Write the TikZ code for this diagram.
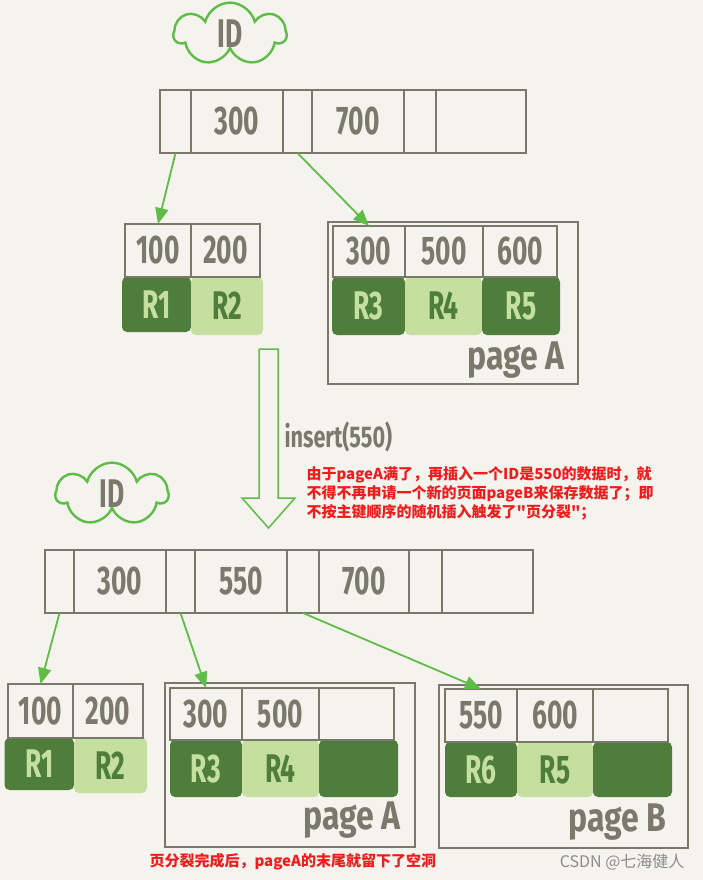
\documentclass[tikz,border=0pt]{standalone}
\usepackage{fontspec}
\setmainfont{Fira Sans}
\newfontfamily\cjk{Noto Sans CJK SC}
\usetikzlibrary{arrows.meta, shapes.symbols}
\definecolor{bgpaper}{HTML}{F4F3EE}
\definecolor{boxgray}{HTML}{7B776B}
\definecolor{inkgray}{HTML}{7D786C}
\definecolor{recdark}{HTML}{4E7D3C}
\definecolor{reclight}{HTML}{C4DFA0}
\definecolor{arrowgreen}{HTML}{5FBC46}
\definecolor{notered}{HTML}{F01C1C}
\definecolor{markgray}{HTML}{8C8C8C}
\newcommand{\hw}[1]{\scalebox{0.66}[1]{#1}}
\newcommand{\hwpage}[1]{\scalebox{0.8}[1]{#1}}

\begin{document}
\begin{tikzpicture}[
    x=1pt, y=-1pt,
    hand/.style={font=\bfseries\fontsize{40}{40}\selectfont},
    keycell/.style={hand, draw=boxgray, line width=1.6pt, inner sep=0pt,
                    outer sep=0pt, text=inkgray},
    darkrec/.style={hand, fill=recdark, rounded corners=5pt, inner sep=0pt,
                    text=reclight},
    lightrec/.style={hand, fill=reclight, rounded corners=5pt, inner sep=0pt,
                     text=recdark},
    pageframe/.style={draw=boxgray, line width=1.6pt},
    idcloud/.style={hand, cloud, cloud puffs=7, aspect=2.1, draw=arrowgreen,
                    line width=2.4pt, inner sep=0pt, minimum width=112pt,
                    minimum height=50pt, text=inkgray},
    link/.style={arrowgreen, line width=1.8pt,
                 -{Triangle[length=16pt,width=13pt]}},
    note/.style={text=notered, font=\cjk\bfseries\fontsize{15}{19}\selectfont,
                 align=left, anchor=west}
  ]
    \fill[bgpaper] (0,0) rectangle (703,880);
    \useasboundingbox (0,0) rectangle (703,880);

    % before the insert
    \node[idcloud] (idtop) at (230,34) {\hw{ID}};

    \node[keycell, minimum width=31pt, minimum height=63pt] (t0) at (175.5,121.5) {};
    \node[keycell, minimum width=92pt, minimum height=63pt] (t1) at (237,121.5) {\hw{300}};
    \node[keycell, minimum width=29pt, minimum height=63pt] (t2) at (297.5,121.5) {};
    \node[keycell, minimum width=92pt, minimum height=63pt] (t3) at (358,121.5) {\hw{700}};
    \node[keycell, minimum width=32pt, minimum height=63pt] (t4) at (420,121.5) {};
    \node[keycell, minimum width=90pt, minimum height=63pt] (t5) at (481,121.5) {};

    \node[darkrec, minimum width=69pt, minimum height=55pt] (tr1) at (156.5,304.5) {\hw{R1}};
    \node[lightrec, minimum width=72pt, minimum height=58pt] (tr2) at (227,306) {\hw{R2}};
    \node[keycell, minimum width=66pt, minimum height=53pt] (tk1) at (158,250.5) {\hw{100}};
    \node[keycell, minimum width=69pt, minimum height=53pt] (tk2) at (225.5,250.5) {\hw{200}};

    \draw[pageframe] (328,222) rectangle (578,384);
    \node[darkrec, minimum width=73pt, minimum height=58pt] (tr3) at (368.5,306) {\hw{R3}};
    \node[lightrec, minimum width=77pt, minimum height=58pt] (tr4) at (443.5,306) {\hw{R4}};
    \node[darkrec, minimum width=78pt, minimum height=58pt] (tr5) at (521,306) {\hw{R5}};
    \node[keycell, minimum width=72pt, minimum height=51pt] (tk3) at (369,251.5) {\hw{300}};
    \node[keycell, minimum width=78pt, minimum height=51pt] (tk4) at (444,251.5) {\hw{500}};
    \node[keycell, minimum width=74pt, minimum height=51pt] (tk5) at (520,251.5) {\hw{600}};
    \node[hand, text=inkgray, anchor=east] (tpa) at (568,360) {\hwpage{page A}};

    \draw[link] (t0.south) -- (tk1.north);
    \draw[link] (t2.south) -- (tk3.north);

    % the insert
    \draw[arrowgreen, line width=1.5pt, fill=bgpaper]
      (259,349) -- (278,349) -- (278,498) -- (295,498) -- (268.5,528)
      -- (242,498) -- (259,498) -- cycle;
    \node[text=inkgray, anchor=west, font=\bfseries\fontsize{30}{30}\selectfont] (ins) at (281,437) {\scalebox{0.72}[1]{insert(550)}};
    \node[note] (why) at (303,493) {由于pageA满了，再插入一个ID是550的数据时，就\\
      不得不再申请一个新的页面pageB来保存数据了；即\\
      不按主键顺序的随机插入触发了"页分裂"；};

    % after the split
    \node[idcloud] (idbot) at (112,494) {\hw{ID}};

    \node[keycell, minimum width=29pt, minimum height=63pt] (b0) at (59.5,581.5) {};
    \node[keycell, minimum width=92pt, minimum height=63pt] (b1) at (120,581.5) {\hw{300}};
    \node[keycell, minimum width=29pt, minimum height=63pt] (b2) at (180.5,581.5) {};
    \node[keycell, minimum width=92pt, minimum height=63pt] (b3) at (241,581.5) {\hw{550}};
    \node[keycell, minimum width=32pt, minimum height=63pt] (b4) at (303,581.5) {};
    \node[keycell, minimum width=90pt, minimum height=63pt] (b5) at (364,581.5) {\hw{700}};
    \node[keycell, minimum width=33pt, minimum height=63pt] (b6) at (425.5,581.5) {};
    \node[keycell, minimum width=91pt, minimum height=63pt] (b7) at (487.5,581.5) {};

    \node[darkrec, minimum width=69.5pt, minimum height=52pt] (br1) at (39.25,764) {\hw{R1}};
    \node[lightrec, minimum width=73pt, minimum height=55pt] (br2) at (110.5,765.5) {\hw{R2}};
    \node[keycell, minimum width=65pt, minimum height=54pt] (bk1) at (40.5,711) {\hw{100}};
    \node[keycell, minimum width=70pt, minimum height=54pt] (bk2) at (108,711) {\hw{200}};

    \draw[pageframe] (165,683) rectangle (415,847);
    \node[darkrec, minimum width=72pt, minimum height=57pt] (br3) at (206,768.5) {\hw{R3}};
    \node[lightrec, minimum width=77pt, minimum height=57pt] (br4) at (280.5,768.5) {\hw{R4}};
    \node[darkrec, minimum width=79pt, minimum height=57pt] (bra) at (358.5,768.5) {};
    \node[keycell, minimum width=72pt, minimum height=52pt] (bk3) at (206,714) {\hw{300}};
    \node[keycell, minimum width=77pt, minimum height=52pt] (bk4) at (280.5,714) {\hw{500}};
    \node[keycell, minimum width=75pt, minimum height=52pt] (bk5) at (356.5,714) {};
    \node[hand, text=inkgray, anchor=east] (bpa) at (404,820) {\hwpage{page A}};

    \draw[pageframe] (439,685) rectangle (688,848);
    \node[darkrec, minimum width=72pt, minimum height=55pt] (br6) at (481,769.5) {\hw{R6}};
    \node[lightrec, minimum width=76pt, minimum height=55pt] (br5) at (555,769.5) {\hw{R5}};
    \node[darkrec, minimum width=79pt, minimum height=55pt] (brb) at (632.5,769.5) {};
    \node[keycell, minimum width=72pt, minimum height=53pt] (bk6) at (481,715.5) {\hw{550}};
    \node[keycell, minimum width=76pt, minimum height=53pt] (bk7) at (555,715.5) {\hw{600}};
    \node[keycell, minimum width=75pt, minimum height=53pt] (bk8) at (630.5,715.5) {};
    \node[hand, text=inkgray, anchor=east] (bpb) at (670,822) {\hwpage{page B}};

    \draw[link] (b0.south) -- (bk1.north);
    \draw[link] (b2.south) -- (bk3.north);
    \draw[link] (b4.south) -- (bk6.north);

    \node[note] (hole) at (146,862) {页分裂完成后，pageA的末尾就留下了空洞};
    \node[text=markgray, font=\cjk\fontsize{16}{16}\selectfont, anchor=east] (mark) at (688,862) {CSDN @七海健人};
  \end{tikzpicture}
\end{document}
